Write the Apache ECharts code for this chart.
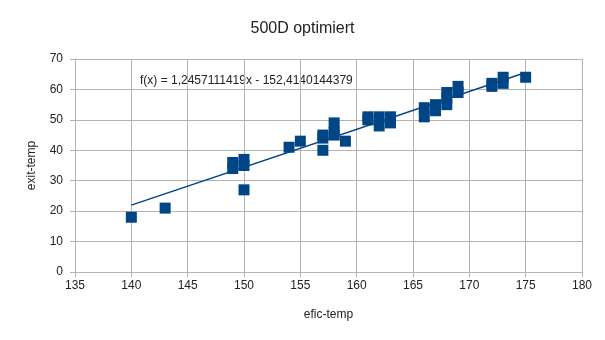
<!DOCTYPE html>
<html>
<head>
<meta charset="utf-8">
<script src="https://cdn.jsdelivr.net/npm/echarts@6/dist/echarts.min.js"></script>
<style>
  html, body { margin: 0; padding: 0; background: #fff; }
  #chart { width: 605px; height: 340px; }
</style>
</head>
<body>
<div id="chart"></div>
<script>
// Measurements: efic-temp (x) against exit-temp (y)
const eficTemp = [140, 143, 149, 149, 150, 150, 150, 154, 155, 157, 157, 157, 158, 158, 158, 159,
                  161, 161, 162, 162, 163, 163, 166, 166, 167, 167, 168, 168, 168, 169, 169,
                  172, 172, 173, 173, 175];
const exitTemp = [18, 21, 36, 34, 37, 35, 27, 41, 43, 45, 44, 40, 49, 46, 45, 43,
                  51, 50, 51, 48, 51, 49, 54, 51, 55, 53, 59, 57, 55, 61, 59,
                  62, 61, 64, 62, 64];

// Linear trend line coefficients and the range it spans
const slope = 1.2457111419;
const intercept = -152.4140144379;
const trendRange = [140, 175];
const trendLabel = 'f(x) = 1,2457111419x - 152,4140144379';

const xTicks = { min: 135, max: 180, interval: 5 };
const yTicks = { min: 0, max: 70, interval: 10 };

const points = eficTemp.map((x, i) => [x, exitTemp[i]]);
const trend = trendRange.map(x => [x, slope * x + intercept]);

const font = '"Liberation Sans", Arial, sans-serif';
const gridColor = '#b3b3b3';
const textColor = '#222';
const blue = '#004586';

const chart = echarts.init(document.getElementById('chart'), null, { renderer: 'canvas' });
chart.setOption({
  animation: false,
  backgroundColor: '#fff',
  title: {
    text: '500D optimiert',
    left: 'center',
    top: 16,
    textStyle: { fontFamily: font, fontSize: 16, fontWeight: 'normal', color: textColor }
  },
  grid: { left: 75, right: 23, top: 59, bottom: 68 },
  xAxis: {
    type: 'value',
    min: xTicks.min, max: xTicks.max, interval: xTicks.interval,
    name: 'efic-temp',
    nameLocation: 'middle',
    nameGap: 37,
    nameTextStyle: { fontFamily: font, fontSize: 12, color: textColor },
    axisLine: { lineStyle: { color: gridColor } },
    axisTick: { show: true, length: 5, lineStyle: { color: gridColor } },
    axisLabel: { fontFamily: font, fontSize: 12, color: textColor, margin: 8 },
    splitLine: { show: true, lineStyle: { color: gridColor, width: 1 } }
  },
  yAxis: {
    type: 'value',
    min: yTicks.min, max: yTicks.max, interval: yTicks.interval,
    name: 'exit-temp',
    nameLocation: 'middle',
    nameGap: 37,
    nameRotate: 90,
    nameTextStyle: { fontFamily: font, fontSize: 12, color: textColor },
    axisLine: { show: true, lineStyle: { color: gridColor } },
    axisTick: { show: true, length: 5, lineStyle: { color: gridColor } },
    axisLabel: { fontFamily: font, fontSize: 12, color: textColor, margin: 12 },
    splitLine: { show: true, lineStyle: { color: gridColor, width: 1 } }
  },
  graphic: [{
    type: 'text',
    left: 140,
    top: 75,
    style: { text: trendLabel, fontFamily: font, fontSize: 12, fill: textColor }
  }],
  series: [
    {
      type: 'scatter',
      data: points,
      symbol: 'rect',
      symbolSize: 11,
      itemStyle: { color: blue, opacity: 1 },
      z: 3
    },
    {
      type: 'line',
      data: trend,
      symbol: 'none',
      lineStyle: { color: blue, width: 1.5 },
      z: 4
    }
  ]
});
</script>
</body>
</html>
